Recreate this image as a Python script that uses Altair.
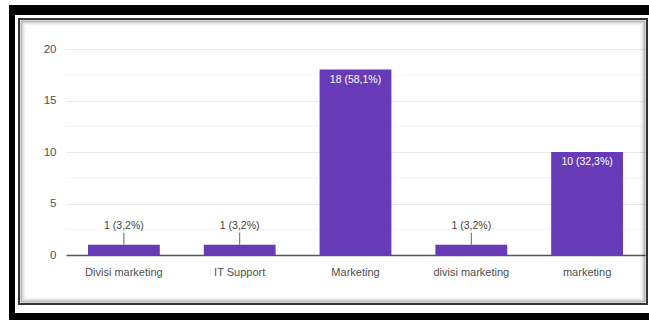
import altair as alt
import pandas as pd

categories = ["Divisi marketing", "IT Support", "Marketing", "divisi marketing", "marketing"]
counts = [1, 1, 18, 1, 10]
labels = ["1 (3,2%)", "1 (3,2%)", "18 (58,1%)", "1 (3,2%)", "10 (32,3%)"]
major_ticks = [0, 5, 10, 15, 20]
minor_ticks = [2.5, 7.5, 12.5, 17.5]

df = pd.DataFrame({"category": categories, "count": counts, "label": labels})
minor_df = pd.DataFrame({"v": minor_ticks})

FONT = "Liberation Sans, Arial, sans-serif"
PURPLE = "#673ab7"

x_enc = alt.X(
    "category:N",
    sort=categories,
    scale=alt.Scale(paddingInner=0.38, paddingOuter=0.19),
    axis=alt.Axis(title=None, labelAngle=0, ticks=False, grid=False,
                  domainColor="#555555", domainWidth=1.5,
                  labelColor="#505050", labelFontSize=11, labelFont=FONT,
                  labelPadding=11),
)
y_scale = alt.Scale(domain=[0, 20], nice=False)
y_enc = alt.Y(
    "count:Q",
    scale=y_scale,
    axis=alt.Axis(title=None, values=major_ticks, ticks=False, domain=False,
                  gridColor="#e9e9e9", gridWidth=1,
                  labelColor="#505050", labelFontSize=11.5, labelFont=FONT,
                  labelPadding=10),
)

base = alt.Chart(df)

minor = alt.Chart(minor_df).mark_rule(color="#f4f4f4", strokeWidth=1).encode(
    y=alt.Y("v:Q", scale=y_scale)
)

bars = base.mark_bar(color=PURPLE).encode(x=x_enc, y=y_enc)

small = base.transform_filter("datum.count < 5")
leader = small.mark_rule(color="#666666", strokeWidth=1, y2Offset=-12).encode(
    x=alt.X("category:N", sort=categories),
    y=alt.Y("count:Q", scale=y_scale),
    y2="count:Q",
)
out_text = small.mark_text(color="#444444", fontSize=10.5, font=FONT,
                           baseline="middle", dy=-19).encode(
    x=alt.X("category:N", sort=categories),
    y=alt.Y("count:Q", scale=y_scale),
    text="label:N",
)
in_text = base.transform_filter("datum.count >= 5").mark_text(
    color="white", fontSize=10.5, font=FONT, baseline="middle", dy=10
).encode(
    x=alt.X("category:N", sort=categories),
    y=alt.Y("count:Q", scale=y_scale),
    text="label:N",
)

# decorative frame (pixel positions relative to plot origin at 66,49)
one = alt.Data(values=[{"k": 0}])

def box(x, x2, y, y2, color):
    return alt.Chart(one).mark_rect(color=color).encode(
        x=alt.value(x), x2=alt.value(x2), y=alt.value(y), y2=alt.value(y2)
    )

def outline(inset, color, width, opacity):
    return alt.Chart(one).mark_rect(fillOpacity=0, stroke=color, strokeWidth=width,
                                    strokeOpacity=opacity).encode(
        x=alt.value(19 - 66 + inset), x2=alt.value(647 - 66 - inset),
        y=alt.value(19 - 49 + inset), y2=alt.value(304 - 49 - inset),
    )

frame = [
    box(9 - 66, 660 - 66, 5 - 49, 15 - 49, "black"),
    box(9 - 66, 15 - 66, 5 - 49, 330 - 49, "black"),
    box(9 - 66, 660 - 66, 313 - 49, 330 - 49, "black"),
    outline(0, "#333333", 2, 1.0),
    outline(2, "#000000", 1, 0.35),
    outline(3, "#000000", 1, 0.22),
    outline(4, "#000000", 1, 0.13),
    outline(5, "#000000", 1, 0.07),
    outline(6, "#000000", 1, 0.04),
]

chart = alt.layer(minor, bars, leader, out_text, in_text, *frame).properties(
    width=579, height=206,
    autosize=alt.AutoSizeParams(type="none"),
    padding={"left": 66, "right": 4, "top": 49, "bottom": 65},
    background="white",
).configure_view(stroke=None)

chart.save("out.html", embed_options={"renderer": "svg", "actions": False})
